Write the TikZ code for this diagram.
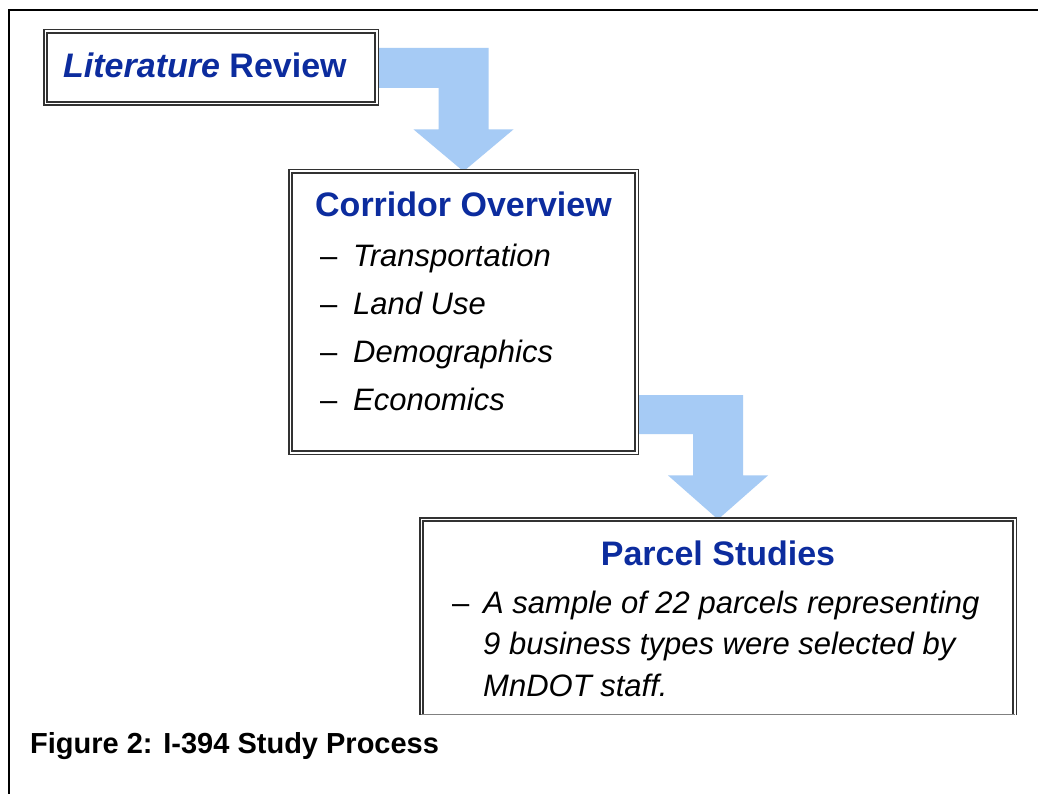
\documentclass[tikz,border=0pt]{standalone}
\usepackage{fontspec}
\setmainfont{Liberation Sans}
\usetikzlibrary{backgrounds,calc}
\definecolor{titleblue}{RGB}{12,44,158}
\definecolor{arrowblue}{RGB}{166,203,245}
\definecolor{boxline}{RGB}{50,50,50}
\begin{document}
\begin{tikzpicture}[x=1pt,y=-1pt,
  dbox/.style={rectangle, draw=boxline, double=white, line width=1.5pt, double distance=1.8pt, fill=white, inner sep=0pt, outer sep=0pt},
  titletext/.style={font=\fontsize{34}{40}\selectfont\bfseries, text=titleblue, inner sep=0pt},
  itemtext/.style={font=\fontsize{31}{40}\selectfont\itshape, inner sep=0pt, anchor=base west},
  captext/.style={font=\fontsize{29}{34}\selectfont\bfseries, inner sep=0pt, anchor=base west},
  blockarrow/.style={fill=arrowblue},
  frameline/.style={draw=black, line width=1.5pt}]
\useasboundingbox (0,0) rectangle (1038,794);
% outer frame
\draw[frameline] (9,794) -- (9,10) -- (1038,10);

% boxes
\node[dbox, minimum width=331.2pt, minimum height=72.2pt] (lit) at (211,67.5) {};
\node[dbox, minimum width=346.2pt, minimum height=281.2pt] (cor) at (463.5,312) {};
\begin{scope}
  \clip (0,0) rectangle (1038,714);
  \node[dbox, minimum width=593.2pt, minimum height=238.2pt] (par) at (718,638.5) {};
\end{scope}
\coordinate (cut) at (0,714);
\draw[gray, line width=1pt] (par.west |- cut) -- (par.east |- cut);

% texts
\node[titletext, anchor=base west] (littitle) at (63,78) {\textit{Literature} Review};
\node[titletext, anchor=base] (cortitle) at (463.5,217) {Corridor Overview};
\node[itemtext] (c1) at (320,266) {\makebox[33pt][l]{\upshape –}Transportation};
\node[itemtext] (c2) at (320,314) {\makebox[33pt][l]{\upshape –}Land Use};
\node[itemtext] (c3) at (320,362) {\makebox[33pt][l]{\upshape –}Demographics};
\node[itemtext] (c4) at (320,410) {\makebox[33pt][l]{\upshape –}Economics};
\node[titletext, anchor=base] (partitle) at (718,565) {Parcel Studies};
\node[itemtext] (p1) at (452,613) {\makebox[31pt][l]{\upshape –}A sample of 22 parcels representing};
\node[itemtext] (p2) at (483,654) {9 business types were selected by};
\node[itemtext] (p3) at (483,696) {MnDOT staff.};
\node[captext] (cap) at (30,753) {Figure 2: I-394 Study Process};

% block arrows
\begin{pgfonlayer}{background}
  \fill[white] (0,0) rectangle (1038,794);
  \path (cor.north) ++(-25,-42) coordinate (s1l) ++(50,0) coordinate (s1r)
        ++(25,0) coordinate (h1r) ++(-100,0) coordinate (h1l);
  \coordinate (b1t) at (0,48);
  \coordinate (b1b) at (0,88);
  \fill[blockarrow] (lit.east |- b1t) -- (s1r |- b1t) -- (s1r) -- (h1r) -- (cor.north)
        -- (h1l) -- (s1l) -- (s1l |- b1b) -- (lit.east |- b1b) -- cycle;
  \path (par.north) ++(-25,-44) coordinate (s2l) ++(50,0) coordinate (s2r)
        ++(25,0) coordinate (h2r) ++(-100,0) coordinate (h2l);
  \coordinate (b2t) at (0,395);
  \coordinate (b2b) at (0,434);
  \fill[blockarrow] (cor.east |- b2t) -- (s2r |- b2t) -- (s2r) -- (h2r) -- (par.north)
        -- (h2l) -- (s2l) -- (s2l |- b2b) -- (cor.east |- b2b) -- cycle;
\end{pgfonlayer}
\end{tikzpicture}
\end{document}
